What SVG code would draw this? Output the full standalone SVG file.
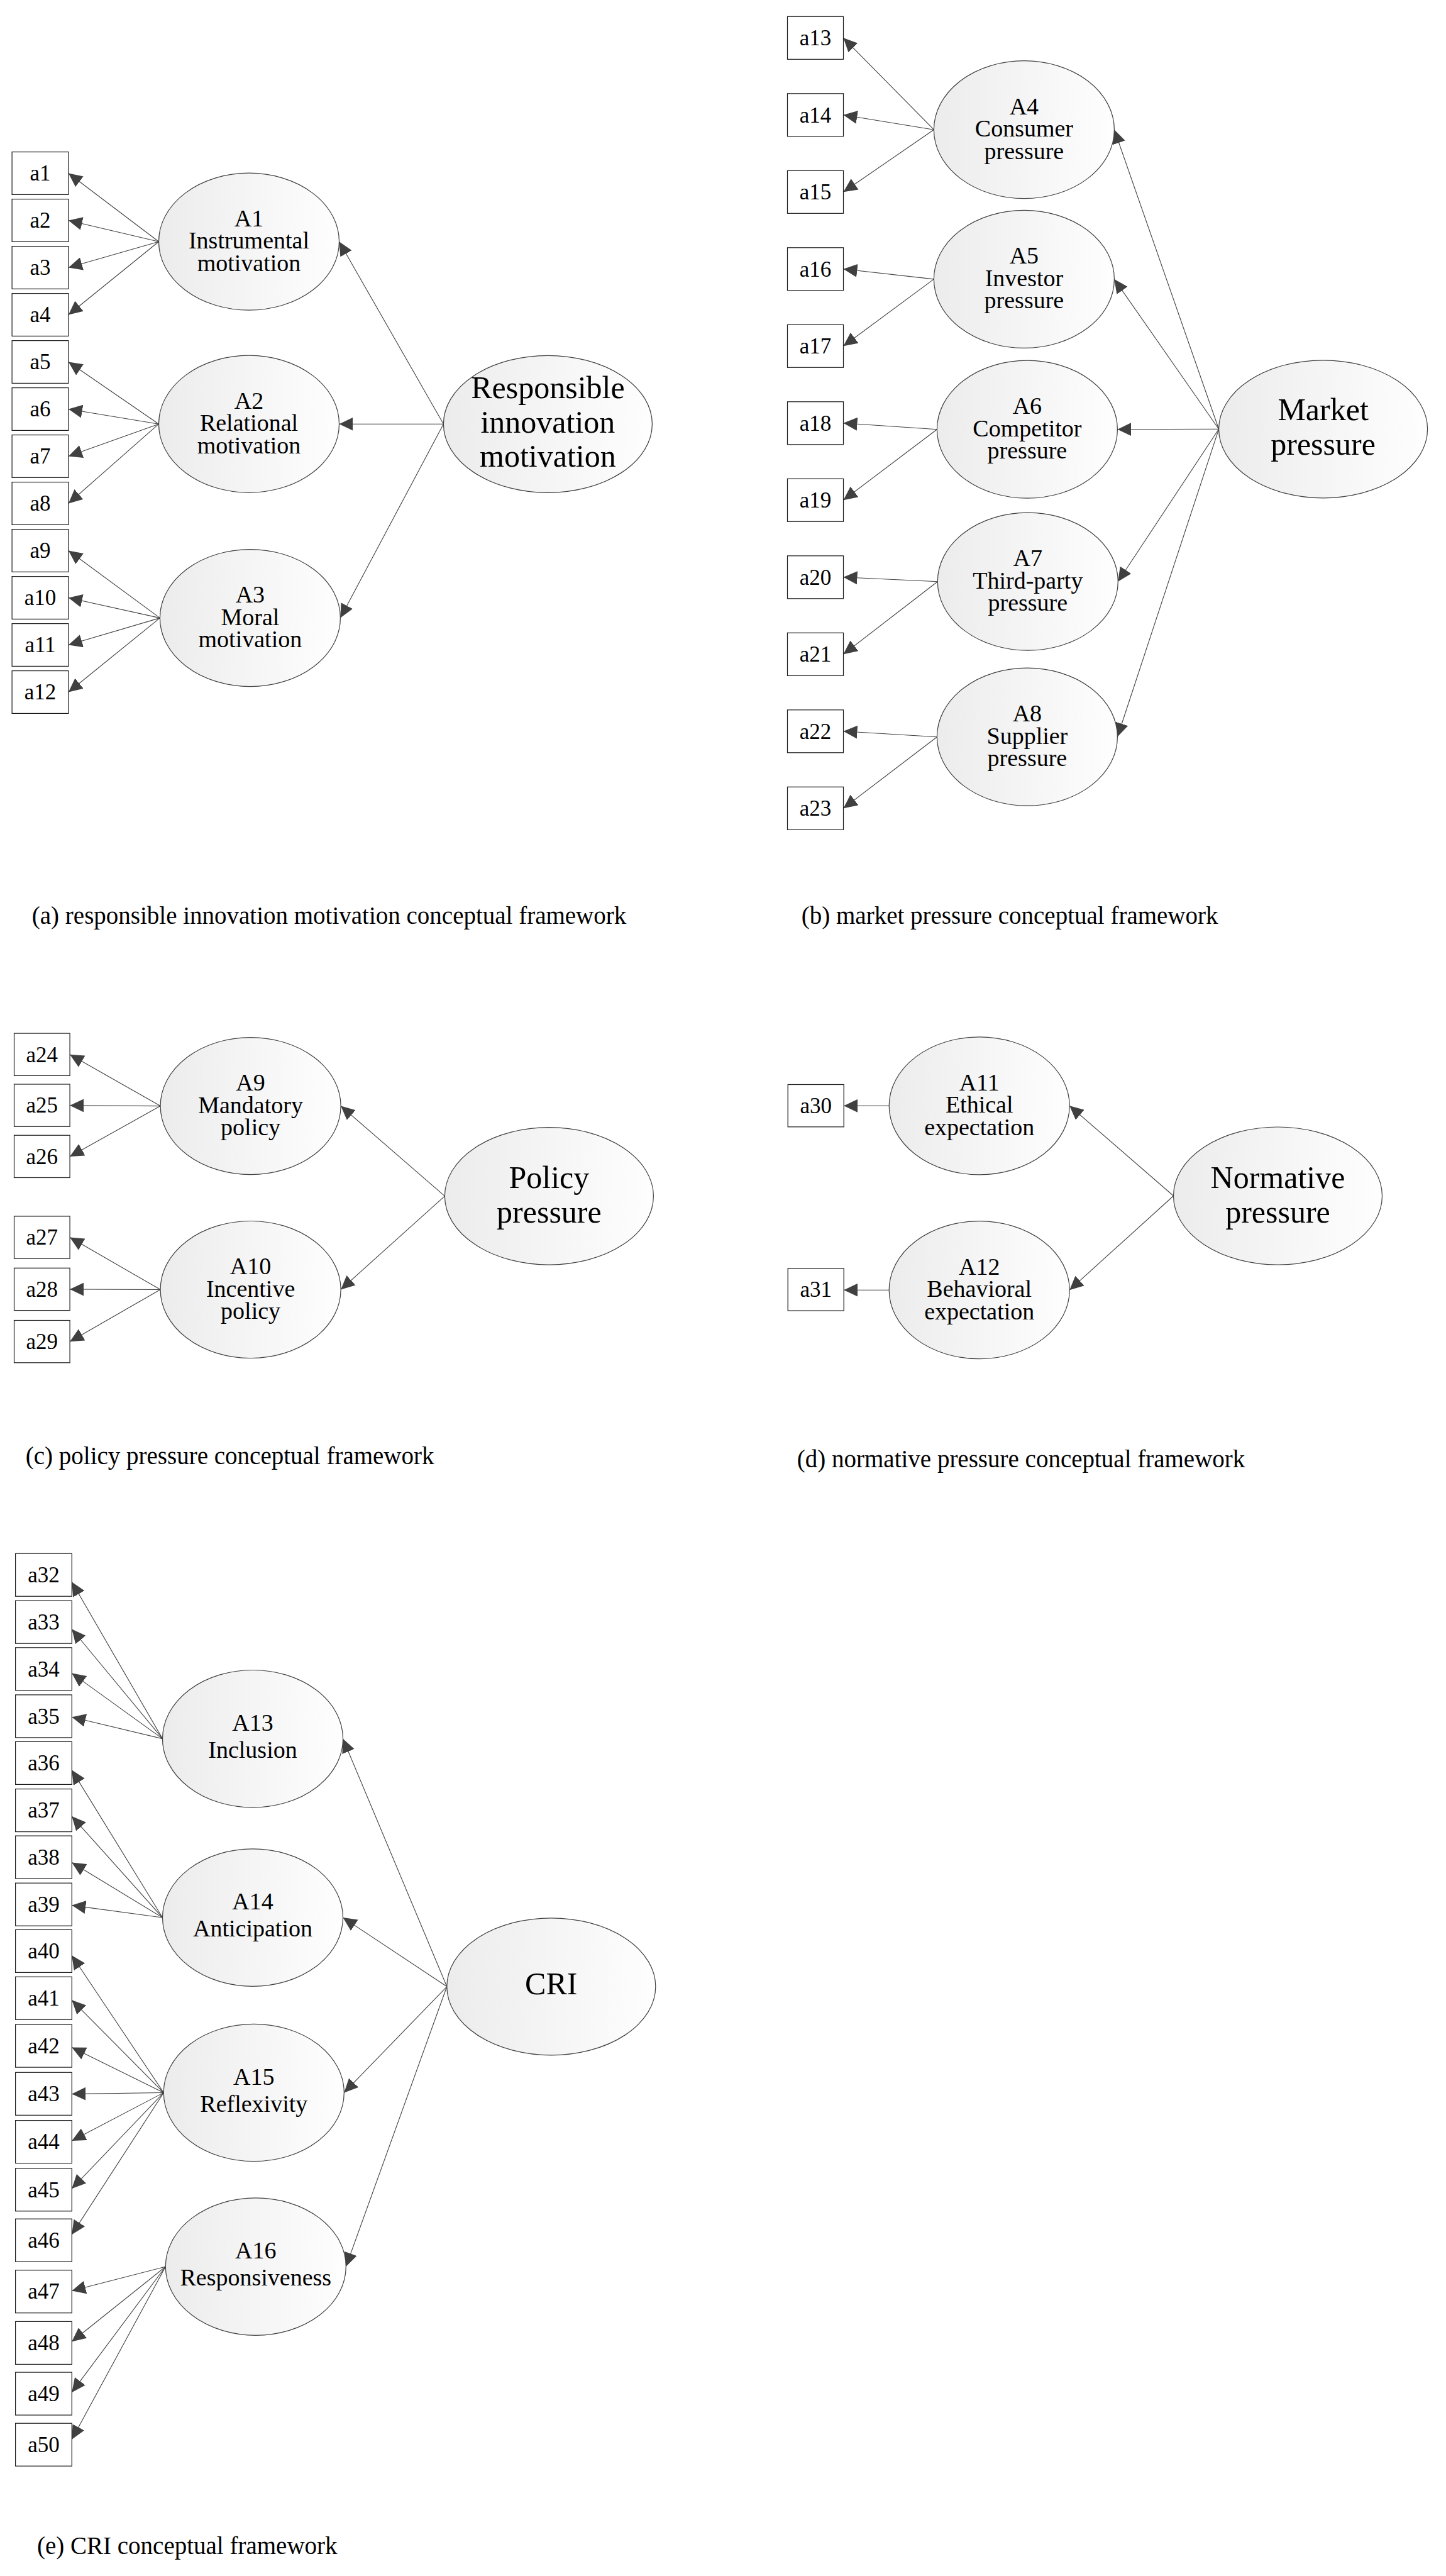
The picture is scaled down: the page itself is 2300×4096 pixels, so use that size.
<svg xmlns="http://www.w3.org/2000/svg" width="2300" height="4096" viewBox="0 0 2300 4096">
<style>
text{font-family:"Liberation Serif","Times New Roman",serif;fill:#000;text-anchor:middle}
.box rect{fill:#fff;stroke:#1a1a1a;stroke-width:1.2}
.box text{font-size:35px}
.lv ellipse{fill:url(#g);stroke:#404040;stroke-width:1.2}
.lv text{font-size:38px}
.big text{font-size:50px}
.cap{font-size:39px;text-anchor:start}
#connectors line{stroke:#404040;stroke-width:1.1;marker-end:url(#ah)}
</style>
<defs>
<linearGradient id="g" x1="0" y1="0" x2="1" y2="0">
<stop offset="0" stop-color="#ececec"/>
<stop offset="1" stop-color="#fefefe"/>
</linearGradient>
<marker id="ah" markerUnits="userSpaceOnUse" markerWidth="22" markerHeight="21" refX="22" refY="10.5" orient="auto">
<path d="M0,0 L22,10.5 L0,21 z" fill="#404040"/>
</marker>
</defs>
<rect width="2300" height="4096" fill="#fff"/>

<g id="connectors">
<!-- (a) -->
<line x1="252.5" y1="384.2" x2="108.9" y2="275.5"/>
<line x1="252.5" y1="384.2" x2="108.9" y2="350.5"/>
<line x1="252.5" y1="384.2" x2="108.9" y2="425.5"/>
<line x1="252.5" y1="384.2" x2="108.9" y2="500.5"/>
<line x1="252.5" y1="674.2" x2="108.9" y2="575.5"/>
<line x1="252.5" y1="674.2" x2="108.9" y2="650.5"/>
<line x1="252.5" y1="674.2" x2="108.9" y2="725.5"/>
<line x1="252.5" y1="674.2" x2="108.9" y2="800.5"/>
<line x1="254.4" y1="982.6" x2="108.9" y2="875.5"/>
<line x1="254.4" y1="982.6" x2="108.9" y2="950.5"/>
<line x1="254.4" y1="982.6" x2="108.9" y2="1025.5"/>
<line x1="254.4" y1="982.6" x2="108.9" y2="1100.5"/>
<line x1="705.4" y1="674.3" x2="539.5" y2="384.2"/>
<line x1="705.4" y1="674.3" x2="539.5" y2="674.2"/>
<line x1="705.4" y1="674.3" x2="541.4" y2="982.6"/>
<!-- (b) -->
<line x1="1485.4" y1="206.2" x2="1341.5" y2="60.3"/>
<line x1="1485.4" y1="206.2" x2="1341.5" y2="182.8"/>
<line x1="1485.4" y1="206.2" x2="1341.5" y2="305.3"/>
<line x1="1485.4" y1="443.9" x2="1341.5" y2="427.8"/>
<line x1="1485.4" y1="443.9" x2="1341.5" y2="550.3"/>
<line x1="1490.4" y1="682.7" x2="1341.5" y2="672.8"/>
<line x1="1490.4" y1="682.7" x2="1341.5" y2="795.3"/>
<line x1="1491.3" y1="924.7" x2="1341.5" y2="917.8"/>
<line x1="1491.3" y1="924.7" x2="1341.5" y2="1040.3"/>
<line x1="1490.4" y1="1171.7" x2="1341.5" y2="1162.8"/>
<line x1="1490.4" y1="1171.7" x2="1341.5" y2="1285.3"/>
<line x1="1938.6" y1="682.3" x2="1772.4" y2="206.2"/>
<line x1="1938.6" y1="682.3" x2="1772.4" y2="443.9"/>
<line x1="1938.6" y1="682.3" x2="1777.4" y2="682.7"/>
<line x1="1938.6" y1="682.3" x2="1778.3" y2="924.7"/>
<line x1="1938.6" y1="682.3" x2="1777.4" y2="1171.7"/>
<!-- (c) -->
<line x1="255.1" y1="1758.6" x2="111.1" y2="1676.8"/>
<line x1="255.1" y1="1758.6" x2="111.1" y2="1757.7"/>
<line x1="255.1" y1="1758.6" x2="111.1" y2="1838.9"/>
<line x1="255.1" y1="2050.5" x2="111.1" y2="1967.6"/>
<line x1="255.1" y1="2050.5" x2="111.1" y2="2050"/>
<line x1="255.1" y1="2050.5" x2="111.1" y2="2133.2"/>
<line x1="707.4" y1="1901.9" x2="542.1" y2="1758.6"/>
<line x1="707.4" y1="1901.9" x2="542.1" y2="2050.5"/>
<!-- (d) -->
<line x1="1414.2" y1="1758.3" x2="1342.2" y2="1758.3"/>
<line x1="1414.2" y1="2051.2" x2="1342.2" y2="2051.2"/>
<line x1="1866.5" y1="1901.5" x2="1701.2" y2="1758.3"/>
<line x1="1866.5" y1="1901.5" x2="1701.2" y2="2051.2"/>
<!-- (e) -->
<line x1="258.5" y1="2764.7" x2="114.3" y2="2515.4"/>
<line x1="258.5" y1="2764.7" x2="114.3" y2="2590.5"/>
<line x1="258.5" y1="2764.7" x2="114.3" y2="2660.6"/>
<line x1="258.5" y1="2764.7" x2="114.3" y2="2730.2"/>
<line x1="258.5" y1="3049.1" x2="114.3" y2="2814.6"/>
<line x1="258.5" y1="3049.1" x2="114.3" y2="2888.1"/>
<line x1="258.5" y1="3049.1" x2="114.3" y2="2961.5"/>
<line x1="258.5" y1="3049.1" x2="114.3" y2="3029.6"/>
<line x1="260.3" y1="3327.5" x2="114.3" y2="3109.2"/>
<line x1="260.3" y1="3327.5" x2="114.3" y2="3180.3"/>
<line x1="260.3" y1="3327.5" x2="114.3" y2="3255.4"/>
<line x1="260.3" y1="3327.5" x2="114.3" y2="3329.6"/>
<line x1="260.3" y1="3327.5" x2="114.3" y2="3403.9"/>
<line x1="260.3" y1="3327.5" x2="114.3" y2="3480.1"/>
<line x1="260.3" y1="3327.5" x2="114.3" y2="3552.9"/>
<line x1="263.3" y1="3604.1" x2="114.3" y2="3642.5"/>
<line x1="263.3" y1="3604.1" x2="114.3" y2="3723.2"/>
<line x1="263.3" y1="3604.1" x2="114.3" y2="3803.9"/>
<line x1="263.3" y1="3604.1" x2="114.3" y2="3878.8"/>
<line x1="710.8" y1="3158.8" x2="545.5" y2="2764.7"/>
<line x1="710.8" y1="3158.8" x2="545.5" y2="3049.1"/>
<line x1="710.8" y1="3158.8" x2="547.3" y2="3327.5"/>
<line x1="710.8" y1="3158.8" x2="550.3" y2="3604.1"/>
</g>

<!-- (a) boxes -->
<g id="a1" class="box"><rect x="19.1" y="241.6" width="89.8" height="67.8"/><text x="64" y="287.2">a1</text></g>
<g id="a2" class="box"><rect x="19.1" y="316.6" width="89.8" height="67.8"/><text x="64" y="362.2">a2</text></g>
<g id="a3" class="box"><rect x="19.1" y="391.6" width="89.8" height="67.8"/><text x="64" y="437.2">a3</text></g>
<g id="a4" class="box"><rect x="19.1" y="466.6" width="89.8" height="67.8"/><text x="64" y="512.2">a4</text></g>
<g id="a5" class="box"><rect x="19.1" y="541.6" width="89.8" height="67.8"/><text x="64" y="587.2">a5</text></g>
<g id="a6" class="box"><rect x="19.1" y="616.6" width="89.8" height="67.8"/><text x="64" y="662.2">a6</text></g>
<g id="a7" class="box"><rect x="19.1" y="691.6" width="89.8" height="67.8"/><text x="64" y="737.2">a7</text></g>
<g id="a8" class="box"><rect x="19.1" y="766.6" width="89.8" height="67.8"/><text x="64" y="812.2">a8</text></g>
<g id="a9" class="box"><rect x="19.1" y="841.6" width="89.8" height="67.8"/><text x="64" y="887.2">a9</text></g>
<g id="a10" class="box"><rect x="19.1" y="916.6" width="89.8" height="67.8"/><text x="64" y="962.2">a10</text></g>
<g id="a11" class="box"><rect x="19.1" y="991.6" width="89.8" height="67.8"/><text x="64" y="1037.2">a11</text></g>
<g id="a12" class="box"><rect x="19.1" y="1066.6" width="89.8" height="67.8"/><text x="64" y="1112.2">a12</text></g>

<!-- (a) latent -->
<g id="A1" class="lv"><ellipse cx="396" cy="384.2" rx="143.5" ry="109"/><text x="396" y="359.7">A1</text><text x="396" y="395.2">Instrumental</text><text x="396" y="430.7">motivation</text></g>
<g id="A2" class="lv"><ellipse cx="396" cy="674.2" rx="143.5" ry="109"/><text x="396" y="649.7">A2</text><text x="396" y="685.2">Relational</text><text x="396" y="720.7">motivation</text></g>
<g id="A3" class="lv"><ellipse cx="397.9" cy="982.6" rx="143.5" ry="109"/><text x="397.9" y="958.1">A3</text><text x="397.9" y="993.6">Moral</text><text x="397.9" y="1029.1">motivation</text></g>
<g id="RIM" class="lv big"><ellipse cx="871.4" cy="674.3" rx="166" ry="109"/><text x="871.4" y="633.1">Responsible</text><text x="871.4" y="687.8">innovation</text><text x="871.4" y="741.8">motivation</text></g>

<!-- (b) boxes -->
<g id="a13" class="box"><rect x="1252.5" y="26.3" width="89" height="68"/><text x="1297" y="72">a13</text></g>
<g id="a14" class="box"><rect x="1252.5" y="148.8" width="89" height="68"/><text x="1297" y="194.5">a14</text></g>
<g id="a15" class="box"><rect x="1252.5" y="271.3" width="89" height="68"/><text x="1297" y="317">a15</text></g>
<g id="a16" class="box"><rect x="1252.5" y="393.8" width="89" height="68"/><text x="1297" y="439.5">a16</text></g>
<g id="a17" class="box"><rect x="1252.5" y="516.3" width="89" height="68"/><text x="1297" y="562">a17</text></g>
<g id="a18" class="box"><rect x="1252.5" y="638.8" width="89" height="68"/><text x="1297" y="684.5">a18</text></g>
<g id="a19" class="box"><rect x="1252.5" y="761.3" width="89" height="68"/><text x="1297" y="807">a19</text></g>
<g id="a20" class="box"><rect x="1252.5" y="883.8" width="89" height="68"/><text x="1297" y="929.5">a20</text></g>
<g id="a21" class="box"><rect x="1252.5" y="1006.3" width="89" height="68"/><text x="1297" y="1052">a21</text></g>
<g id="a22" class="box"><rect x="1252.5" y="1128.8" width="89" height="68"/><text x="1297" y="1174.5">a22</text></g>
<g id="a23" class="box"><rect x="1252.5" y="1251.3" width="89" height="68"/><text x="1297" y="1297">a23</text></g>

<!-- (b) latent -->
<g id="A4" class="lv"><ellipse cx="1628.9" cy="206.2" rx="143.5" ry="109.5"/><text x="1628.9" y="181.7">A4</text><text x="1628.9" y="217.2">Consumer</text><text x="1628.9" y="252.7">pressure</text></g>
<g id="A5" class="lv"><ellipse cx="1628.9" cy="443.9" rx="143.5" ry="109.5"/><text x="1628.9" y="419.4">A5</text><text x="1628.9" y="454.9">Investor</text><text x="1628.9" y="490.4">pressure</text></g>
<g id="A6" class="lv"><ellipse cx="1633.9" cy="682.7" rx="143.5" ry="109.5"/><text x="1633.9" y="658.2">A6</text><text x="1633.9" y="693.7">Competitor</text><text x="1633.9" y="729.2">pressure</text></g>
<g id="A7" class="lv"><ellipse cx="1634.8" cy="924.7" rx="143.5" ry="109.5"/><text x="1634.8" y="900.2">A7</text><text x="1634.8" y="935.7">Third-party</text><text x="1634.8" y="971.2">pressure</text></g>
<g id="A8" class="lv"><ellipse cx="1633.9" cy="1171.7" rx="143.5" ry="109.5"/><text x="1633.9" y="1147.2">A8</text><text x="1633.9" y="1182.7">Supplier</text><text x="1633.9" y="1218.2">pressure</text></g>
<g id="MP" class="lv big"><ellipse cx="2104.6" cy="682.3" rx="166" ry="109.5"/><text x="2104.6" y="668.3">Market</text><text x="2104.6" y="723.3">pressure</text></g>

<!-- (c) -->
<g id="a24" class="box"><rect x="22.5" y="1643.1" width="88.6" height="67.3"/><text x="66.8" y="1688.5">a24</text></g>
<g id="a25" class="box"><rect x="22.5" y="1724" width="88.6" height="67.3"/><text x="66.8" y="1769.4">a25</text></g>
<g id="a26" class="box"><rect x="22.5" y="1805.2" width="88.6" height="67.3"/><text x="66.8" y="1850.6">a26</text></g>
<g id="a27" class="box"><rect x="22.5" y="1933.9" width="88.6" height="67.3"/><text x="66.8" y="1979.3">a27</text></g>
<g id="a28" class="box"><rect x="22.5" y="2016.3" width="88.6" height="67.3"/><text x="66.8" y="2061.7">a28</text></g>
<g id="a29" class="box"><rect x="22.5" y="2099.5" width="88.6" height="67.3"/><text x="66.8" y="2144.9">a29</text></g>
<g id="A9" class="lv"><ellipse cx="398.6" cy="1758.6" rx="143.5" ry="109"/><text x="398.6" y="1734.1">A9</text><text x="398.6" y="1769.6">Mandatory</text><text x="398.6" y="1805.1">policy</text></g>
<g id="A10" class="lv"><ellipse cx="398.6" cy="2050.5" rx="143.5" ry="109"/><text x="398.6" y="2026">A10</text><text x="398.6" y="2061.5">Incentive</text><text x="398.6" y="2097">policy</text></g>
<g id="PP" class="lv big"><ellipse cx="873.4" cy="1901.9" rx="166" ry="109.2"/><text x="873.4" y="1889.1">Policy</text><text x="873.4" y="1944.3">pressure</text></g>

<!-- (d) -->
<g id="a30" class="box"><rect x="1253.2" y="1724.5" width="89" height="67.3"/><text x="1297.7" y="1769.9">a30</text></g>
<g id="a31" class="box"><rect x="1253.2" y="2016.8" width="89" height="67.3"/><text x="1297.7" y="2062.2">a31</text></g>
<g id="A11" class="lv"><ellipse cx="1557.7" cy="1758.3" rx="143.5" ry="109.5"/><text x="1557.7" y="1733.8">A11</text><text x="1557.7" y="1769.3">Ethical</text><text x="1557.7" y="1804.8">expectation</text></g>
<g id="A12" class="lv"><ellipse cx="1557.7" cy="2051.2" rx="143.5" ry="109.5"/><text x="1557.7" y="2026.7">A12</text><text x="1557.7" y="2062.2">Behavioral</text><text x="1557.7" y="2097.7">expectation</text></g>
<g id="NP" class="lv big"><ellipse cx="2032.5" cy="1901.5" rx="166" ry="109.5"/><text x="2032.5" y="1889.1">Normative</text><text x="2032.5" y="1943.9">pressure</text></g>

<!-- (e) boxes -->
<g id="a32" class="box"><rect x="24.6" y="2470.2" width="89.7" height="68"/><text x="69.45" y="2515.9">a32</text></g>
<g id="a33" class="box"><rect x="24.6" y="2545.2" width="89.7" height="68"/><text x="69.45" y="2590.9">a33</text></g>
<g id="a34" class="box"><rect x="24.6" y="2619.8" width="89.7" height="68"/><text x="69.45" y="2665.5">a34</text></g>
<g id="a35" class="box"><rect x="24.6" y="2694.9" width="89.7" height="68"/><text x="69.45" y="2740.6">a35</text></g>
<g id="a36" class="box"><rect x="24.6" y="2769.4" width="89.7" height="68"/><text x="69.45" y="2815.1">a36</text></g>
<g id="a37" class="box"><rect x="24.6" y="2844.6" width="89.7" height="68"/><text x="69.45" y="2890.3">a37</text></g>
<g id="a38" class="box"><rect x="24.6" y="2919.1" width="89.7" height="68"/><text x="69.45" y="2964.8">a38</text></g>
<g id="a39" class="box"><rect x="24.6" y="2994.2" width="89.7" height="68"/><text x="69.45" y="3039.9">a39</text></g>
<g id="a40" class="box"><rect x="24.6" y="3068.4" width="89.7" height="68"/><text x="69.45" y="3114.1">a40</text></g>
<g id="a41" class="box"><rect x="24.6" y="3143.3" width="89.7" height="68"/><text x="69.45" y="3189">a41</text></g>
<g id="a42" class="box"><rect x="24.6" y="3219.1" width="89.7" height="68"/><text x="69.45" y="3264.8">a42</text></g>
<g id="a43" class="box"><rect x="24.6" y="3295.3" width="89.7" height="68"/><text x="69.45" y="3341">a43</text></g>
<g id="a44" class="box"><rect x="24.6" y="3371.6" width="89.7" height="68"/><text x="69.45" y="3417.3">a44</text></g>
<g id="a45" class="box"><rect x="24.6" y="3447.8" width="89.7" height="68"/><text x="69.45" y="3493.5">a45</text></g>
<g id="a46" class="box"><rect x="24.6" y="3528.2" width="89.7" height="68"/><text x="69.45" y="3573.9">a46</text></g>
<g id="a47" class="box"><rect x="24.6" y="3609.7" width="89.7" height="68"/><text x="69.45" y="3655.4">a47</text></g>
<g id="a48" class="box"><rect x="24.6" y="3691.4" width="89.7" height="68"/><text x="69.45" y="3737.1">a48</text></g>
<g id="a49" class="box"><rect x="24.6" y="3772.1" width="89.7" height="68"/><text x="69.45" y="3817.8">a49</text></g>
<g id="a50" class="box"><rect x="24.6" y="3853.2" width="89.7" height="68"/><text x="69.45" y="3898.9">a50</text></g>

<!-- (e) latent -->
<g id="A13" class="lv"><ellipse cx="402" cy="2764.7" rx="143.5" ry="109.2"/><text x="402" y="2751.7">A13</text><text x="402" y="2794.7">Inclusion</text></g>
<g id="A14" class="lv"><ellipse cx="402" cy="3049.1" rx="143.5" ry="109.2"/><text x="402" y="3036.1">A14</text><text x="402" y="3079.1">Anticipation</text></g>
<g id="A15" class="lv"><ellipse cx="403.8" cy="3327.5" rx="143.5" ry="109.2"/><text x="403.8" y="3314.5">A15</text><text x="403.8" y="3357.5">Reflexivity</text></g>
<g id="A16" class="lv"><ellipse cx="406.8" cy="3604.1" rx="143.5" ry="109.2"/><text x="406.8" y="3591.1">A16</text><text x="406.8" y="3634.1">Responsiveness</text></g>
<g id="CRI" class="lv big"><ellipse cx="876.8" cy="3158.8" rx="166" ry="109"/><text x="876.8" y="3170.8">CRI</text></g>

<g id="captions">
<text class="cap" x="50.8" y="1468.7">(a) responsible innovation motivation conceptual framework</text>
<text class="cap" x="1274.8" y="1469">(b) market pressure conceptual framework</text>
<text class="cap" x="40.8" y="2328">(c) policy pressure conceptual framework</text>
<text class="cap" x="1267.8" y="2333">(d) normative pressure conceptual framework</text>
<text class="cap" x="59" y="4061">(e) CRI conceptual framework</text>
</g>
</svg>
